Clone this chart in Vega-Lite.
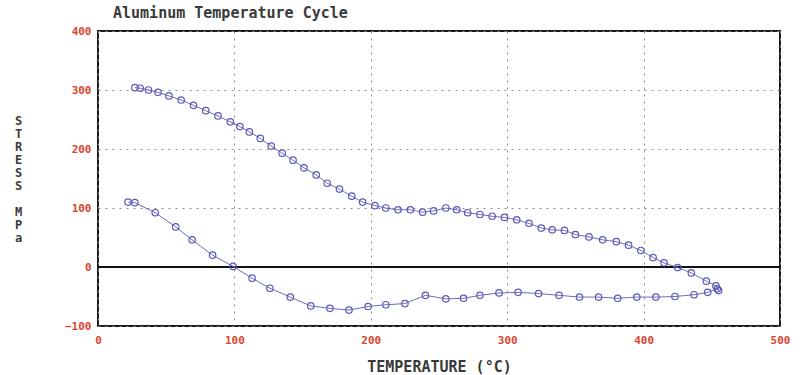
{
  "$schema": "https://vega.github.io/schema/vega-lite/v6.json",
  "autosize": "none",
  "padding": {"left": 98, "top": 31, "right": 22, "bottom": 49},
  "width": 682,
  "height": 295,
  "background": "white",
  "title": {
    "text": "Aluminum Temperature Cycle",
    "anchor": "start",
    "frame": "group",
    "dx": 15,
    "offset": 4,
    "font": "DejaVu Sans Mono",
    "fontSize": 15,
    "fontWeight": "bold",
    "color": "#3a3a3a"
  },
  "config": {
    "view": {"stroke": "#1a1a1a", "strokeWidth": 2},
    "axis": {
      "labelFont": "DejaVu Sans Mono",
      "labelFontSize": 11,
      "labelFontWeight": "bold",
      "labelColor": "#d9452f",
      "domain": false,
      "ticks": false,
      "grid": true,
      "gridColor": "#8c8c8c",
      "gridDash": [2, 5],
      "gridWidth": 1,
      "titleFont": "DejaVu Sans Mono",
      "titleFontWeight": "bold",
      "titleColor": "#3a3a3a"
    }
  },
  "data": {
    "values": [
      {"seq": 1, "temp": 22, "stress": 110},
      {"seq": 2, "temp": 27, "stress": 109},
      {"seq": 3, "temp": 42, "stress": 92},
      {"seq": 4, "temp": 57, "stress": 68},
      {"seq": 5, "temp": 69, "stress": 46},
      {"seq": 6, "temp": 84, "stress": 20},
      {"seq": 7, "temp": 99, "stress": 1},
      {"seq": 8, "temp": 113, "stress": -19},
      {"seq": 9, "temp": 126, "stress": -36},
      {"seq": 10, "temp": 141, "stress": -51},
      {"seq": 11, "temp": 156, "stress": -66},
      {"seq": 12, "temp": 170, "stress": -70},
      {"seq": 13, "temp": 184, "stress": -73},
      {"seq": 14, "temp": 198, "stress": -67},
      {"seq": 15, "temp": 211, "stress": -64},
      {"seq": 16, "temp": 225, "stress": -62},
      {"seq": 17, "temp": 240, "stress": -48},
      {"seq": 18, "temp": 255, "stress": -54},
      {"seq": 19, "temp": 268, "stress": -53},
      {"seq": 20, "temp": 280, "stress": -48},
      {"seq": 21, "temp": 294, "stress": -44},
      {"seq": 22, "temp": 308, "stress": -43},
      {"seq": 23, "temp": 323, "stress": -45},
      {"seq": 24, "temp": 338, "stress": -48},
      {"seq": 25, "temp": 353, "stress": -51},
      {"seq": 26, "temp": 367, "stress": -51},
      {"seq": 27, "temp": 381, "stress": -53},
      {"seq": 28, "temp": 395, "stress": -51},
      {"seq": 29, "temp": 409, "stress": -51},
      {"seq": 30, "temp": 423, "stress": -50},
      {"seq": 31, "temp": 437, "stress": -47},
      {"seq": 32, "temp": 447, "stress": -43},
      {"seq": 33, "temp": 454, "stress": -37},
      {"seq": 34, "temp": 455, "stress": -40},
      {"seq": 35, "temp": 453, "stress": -32},
      {"seq": 36, "temp": 446, "stress": -24},
      {"seq": 37, "temp": 435, "stress": -10},
      {"seq": 38, "temp": 425, "stress": -1},
      {"seq": 39, "temp": 415, "stress": 7},
      {"seq": 40, "temp": 407, "stress": 16},
      {"seq": 41, "temp": 398, "stress": 28},
      {"seq": 42, "temp": 389, "stress": 37},
      {"seq": 43, "temp": 380, "stress": 43},
      {"seq": 44, "temp": 370, "stress": 46},
      {"seq": 45, "temp": 360, "stress": 51},
      {"seq": 46, "temp": 350, "stress": 55},
      {"seq": 47, "temp": 342, "stress": 62},
      {"seq": 48, "temp": 333, "stress": 63},
      {"seq": 49, "temp": 325, "stress": 66},
      {"seq": 50, "temp": 316, "stress": 74},
      {"seq": 51, "temp": 307, "stress": 80},
      {"seq": 52, "temp": 298, "stress": 84},
      {"seq": 53, "temp": 289, "stress": 86},
      {"seq": 54, "temp": 280, "stress": 89},
      {"seq": 55, "temp": 271, "stress": 92},
      {"seq": 56, "temp": 263, "stress": 97},
      {"seq": 57, "temp": 255, "stress": 100},
      {"seq": 58, "temp": 246, "stress": 95},
      {"seq": 59, "temp": 238, "stress": 93},
      {"seq": 60, "temp": 229, "stress": 97},
      {"seq": 61, "temp": 220, "stress": 97},
      {"seq": 62, "temp": 211, "stress": 100},
      {"seq": 63, "temp": 203, "stress": 104},
      {"seq": 64, "temp": 194, "stress": 110},
      {"seq": 65, "temp": 186, "stress": 120},
      {"seq": 66, "temp": 177, "stress": 132},
      {"seq": 67, "temp": 168, "stress": 142},
      {"seq": 68, "temp": 160, "stress": 156},
      {"seq": 69, "temp": 151, "stress": 168},
      {"seq": 70, "temp": 143, "stress": 181},
      {"seq": 71, "temp": 135, "stress": 193},
      {"seq": 72, "temp": 127, "stress": 205},
      {"seq": 73, "temp": 119, "stress": 218},
      {"seq": 74, "temp": 111, "stress": 229},
      {"seq": 75, "temp": 104, "stress": 238},
      {"seq": 76, "temp": 97, "stress": 246},
      {"seq": 77, "temp": 88, "stress": 256},
      {"seq": 78, "temp": 79, "stress": 265},
      {"seq": 79, "temp": 70, "stress": 274},
      {"seq": 80, "temp": 61, "stress": 283},
      {"seq": 81, "temp": 52, "stress": 290},
      {"seq": 82, "temp": 44, "stress": 296},
      {"seq": 83, "temp": 37, "stress": 300},
      {"seq": 84, "temp": 31, "stress": 303},
      {"seq": 85, "temp": 27, "stress": 304}
    ]
  },
  "encoding": {
    "x": {
      "field": "temp",
      "type": "quantitative",
      "scale": {"domain": [0, 500], "nice": false},
      "axis": {
        "values": [0, 100, 200, 300, 400, 500],
        "title": "TEMPERATURE (°C)",
        "titleFontSize": 15,
        "titlePadding": 14,
        "labelPadding": 8,
        "labelFlush": false
      }
    },
    "y": {
      "field": "stress",
      "type": "quantitative",
      "scale": {"domain": [-100, 400], "nice": false},
      "axis": {
        "values": [-100, 0, 100, 200, 300, 400],
        "title": ["S", "T", "R", "E", "S", "S", "\u2800", "M", "P", "a"],
        "titleAngle": 0,
        "titleFontSize": 12,
        "titleLineHeight": 13,
        "titleAlign": "center",
        "titleBaseline": "middle",
        "titleX": -80,
        "titleY": 89,
        "labelPadding": 7
      }
    }
  },
  "layer": [
    {
      "mark": {"type": "rule", "color": "#111111", "strokeWidth": 2},
      "encoding": {"y": {"datum": 0}, "x": null}
    },
    {
      "mark": {
        "type": "line",
        "color": "#6b6bc2",
        "strokeWidth": 1,
        "point": {"filled": false, "shape": "circle", "size": 42, "stroke": "#5a5ab8", "strokeWidth": 1.2}
      },
      "encoding": {
        "order": {"field": "seq", "type": "quantitative"}
      }
    }
  ]
}
